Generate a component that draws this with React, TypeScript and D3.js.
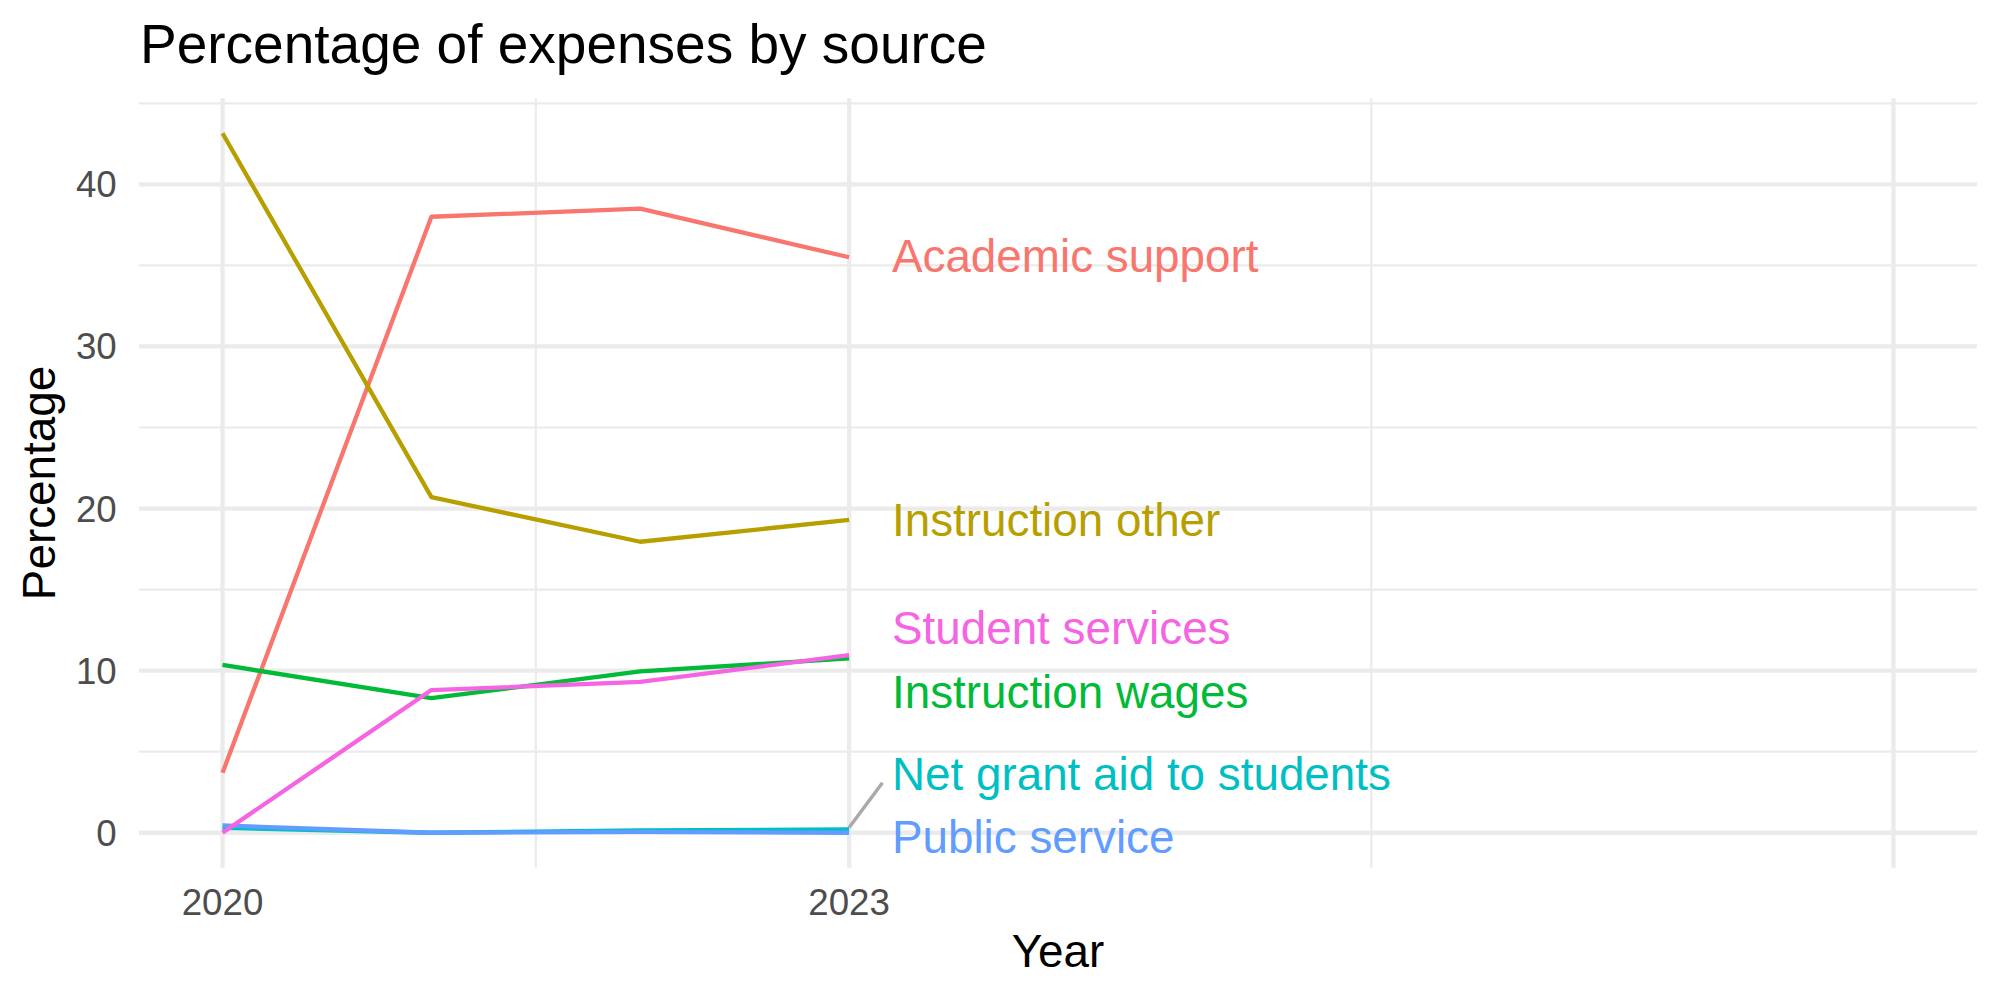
import React, { useEffect, useRef } from 'react';
import * as d3 from 'd3';

// data (percent of expenses, per year)
const years = [2020, 2021, 2022, 2023];
const sources = [
  'Academic support',
  'Instruction other',
  'Instruction wages',
  'Net grant aid to students',
  'Public service',
  'Student services',
];
const academicSupport = [3.7, 38.0, 38.5, 35.5];
const instructionOther = [43.15, 20.7, 17.95, 19.3];
const instructionWages = [10.35, 8.3, 9.95, 10.75];
const netGrantAid = [0.3, 0.0, 0.15, 0.2];
const publicService = [0.45, 0.0, 0.05, 0.0];
const studentServices = [0.0, 8.8, 9.3, 10.95];

// where the (repelled) end labels sit
const labelYear = 2023.205;
const labelValues = [35.59, 19.31, 8.74, 3.64, -0.22, 12.65];

// axis stuff
const xLimits = [2020, 2028];
const xBreaks = [2020, 2023, 2028];
const xLabels = ['2020', '2023', ''];
const xMinorBreaks = [2021.5, 2025.5];
const yBreaks = [0, 10, 20, 30, 40];
const yMinorBreaks = [5, 15, 25, 35, 45];

const colors = ['#F8766D', '#B79F00', '#00BA38', '#00BFC4', '#619CFF', '#F564E3'];

const FONT = '"Liberation Sans", Arial, Helvetica, sans-serif';

function LineChart() {
  const ref = useRef<SVGSVGElement>(null);

  useEffect(() => {
    const w = 2000;
    const h = 1000;
    const left = 139, right = 1977, top = 98.3, bottom = 867.7;

    const dataset = sources.map((name, i) => ({
      name,
      color: colors[i],
      values: [academicSupport, instructionOther, instructionWages, netGrantAid, publicService, studentServices][i],
      label: labelValues[i],
    }));

    const svg = d3.select(ref.current);
    svg.selectAll('*').remove();
    svg.attr('width', w).attr('height', h);

    svg.append('rect').attr('width', w).attr('height', h).attr('fill', 'white');

    // ggplot style 5% expansion
    const xPad = (xLimits[1] - xLimits[0]) * 0.05;
    const xScale = d3.scaleLinear()
      .domain([xLimits[0] - xPad, xLimits[1] + xPad])
      .range([left, right]);

    const allVals = dataset.flatMap(d => d.values);
    const [yMin, yMax] = d3.extent(allVals) as [number, number];
    const yPad = (yMax - yMin) * 0.05;
    const yScale = d3.scaleLinear()
      .domain([yMin - yPad, yMax + yPad])
      .range([bottom, top]);

    const grid = svg.append('g').attr('stroke', '#EBEBEB').attr('fill', 'none');

    // minor grid
    grid.selectAll('.xminor').data(xMinorBreaks).enter().append('line')
      .attr('x1', d => xScale(d)).attr('x2', d => xScale(d))
      .attr('y1', top).attr('y2', bottom)
      .attr('stroke-width', 2.2);
    grid.selectAll('.yminor').data(yMinorBreaks.filter(d => d <= yMax + yPad)).enter().append('line')
      .attr('y1', d => yScale(d)).attr('y2', d => yScale(d))
      .attr('x1', left).attr('x2', right)
      .attr('stroke-width', 2.2);

    // major grid
    grid.selectAll('.xmajor').data(xBreaks).enter().append('line')
      .attr('x1', d => xScale(d)).attr('x2', d => xScale(d))
      .attr('y1', top).attr('y2', bottom)
      .attr('stroke-width', 4.3);
    grid.selectAll('.ymajor').data(yBreaks).enter().append('line')
      .attr('y1', d => yScale(d)).attr('y2', d => yScale(d))
      .attr('x1', left).attr('x2', right)
      .attr('stroke-width', 4.3);

    // tick labels
    svg.append('g').selectAll('text').data(yBreaks).enter().append('text')
      .attr('x', 116.7)
      .attr('y', d => yScale(d) + 13)
      .attr('text-anchor', 'end')
      .attr('font-family', FONT).attr('font-size', 36.7)
      .attr('fill', '#4D4D4D')
      .text(d => String(d));

    svg.append('g').selectAll('text').data(xBreaks).enter().append('text')
      .attr('x', d => xScale(d))
      .attr('y', 915)
      .attr('text-anchor', 'middle')
      .attr('font-family', FONT).attr('font-size', 36.7)
      .attr('fill', '#4D4D4D')
      .text((d, i) => xLabels[i]);

    // lines
    const line = d3.line<number>()
      .x((d, i) => xScale(years[i]))
      .y(d => yScale(d));

    svg.append('g').selectAll('path').data(dataset).enter().append('path')
      .attr('d', d => line(d.values))
      .attr('fill', 'none')
      .attr('stroke', d => d.color)
      .attr('stroke-width', 4.3)
      .attr('stroke-linejoin', 'round');

    // leader segments for labels pushed far away from their line end
    const last = years.length - 1;
    const moved = dataset.filter(d => Math.abs(d.label - d.values[last]) > 2.5);
    svg.append('g').selectAll('line').data(moved).enter().append('line')
      .attr('x1', xScale(years[last]))
      .attr('y1', d => yScale(d.values[last]) - 2)
      .attr('x2', xScale(labelYear) - 9.5)
      .attr('y2', d => yScale(d.label) + 9)
      .attr('stroke', '#AAAAAA')
      .attr('stroke-width', 3.5);

    // end labels
    svg.append('g').selectAll('text').data(dataset).enter().append('text')
      .attr('x', xScale(labelYear))
      .attr('y', d => yScale(d.label) + 16.5)
      .attr('font-family', FONT).attr('font-size', 45.8)
      .attr('fill', d => d.color)
      .text(d => d.name);

    // titles
    svg.append('text')
      .attr('x', 140).attr('y', 63)
      .attr('font-family', FONT).attr('font-size', 55)
      .attr('fill', 'black')
      .text('Percentage of expenses by source');

    svg.append('text')
      .attr('x', (left + right) / 2).attr('y', 967)
      .attr('text-anchor', 'middle')
      .attr('font-family', FONT).attr('font-size', 45.8)
      .attr('fill', 'black')
      .text('Year');

    svg.append('text')
      .attr('transform', `translate(55, ${(top + bottom) / 2}) rotate(-90)`)
      .attr('text-anchor', 'middle')
      .attr('font-family', FONT).attr('font-size', 45.8)
      .attr('fill', 'black')
      .text('Percentage');
  }, []);

  return <svg ref={ref} style={{ position: 'absolute', left: 0, top: 0, display: 'block' }} />;
}

export default function App() {
  return <LineChart />;
}
